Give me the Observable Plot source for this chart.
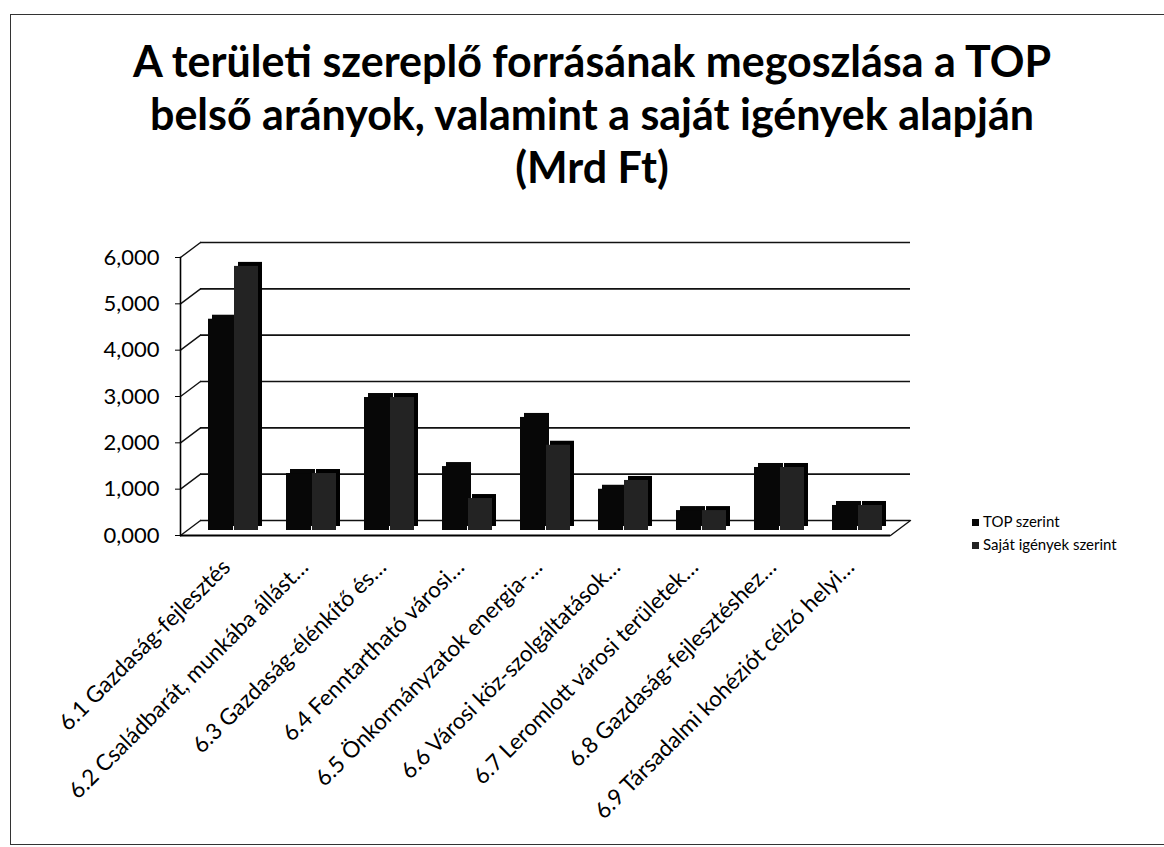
<!DOCTYPE html>
<html>
<head>
<meta charset="utf-8">
<script src="https://cdn.jsdelivr.net/npm/d3@7"></script>
<script src="https://cdn.jsdelivr.net/npm/@observablehq/plot@0.6"></script>
<style>
  body { margin: 0; background: #fff; overflow: hidden; }
  #wrap { position: relative; width: 1164px; height: 847px; overflow: hidden; font-family: Lato, "Open Sans", sans-serif; color: #000; }
  #frame { position: absolute; left: 10px; top: 14px; width: 1400px; height: 831px; border: 1.5px solid #333; box-sizing: border-box; }
  #title { position: absolute; top: 34px; left: 0; width: 1184px; text-align: center; font-weight: bold; font-size: 43px; line-height: 53px; }
  #chart { position: absolute; left: 0; top: 200px; }
  #legend { position: absolute; left: 972px; top: 510px; font-size: 15px; line-height: 23px; }
  #legend .sw { display: inline-block; width: 7px; height: 7px; margin-right: 4px; vertical-align: 1px; }
</style>
</head>
<body>
<div id="wrap">
  <div id="frame"></div>
  <div id="title"></div>
  <div id="chart"></div>
  <div id="legend"></div>
</div>
<script>
const titleLines = [
  "A területi szereplő forrásának megoszlása a TOP",
  "belső arányok, valamint a saját igények alapján",
  "(Mrd Ft)"
];
const categories = [
  "6.1 Gazdaság-fejlesztés",
  "6.2 Családbarát, munkába állást…",
  "6.3 Gazdaság-élénkítő és…",
  "6.4 Fenntartható városi…",
  "6.5 Önkormányzatok energia-…",
  "6.6 Városi köz-szolgáltatások…",
  "6.7 Leromlott városi területek…",
  "6.8 Gazdaság-fejlesztéshez…",
  "6.9 Társadalmi kohéziót célzó helyi…"
];
const seriesNames = ["TOP szerint", "Saját igények szerint"];
const topValues   = [4.56, 1.23, 2.87, 1.38, 2.44, 0.89, 0.43, 1.36, 0.54];
const sajatValues = [5.70, 1.23, 2.87, 0.69, 1.84, 1.08, 0.43, 1.36, 0.54];
const yTicks = [0, 1, 2, 3, 4, 5, 6];
const seriesColors = ["#070707", "#232323"];

document.getElementById("title").innerHTML = titleLines.join("<br>");

const topData = categories.map((c, i) => ({cat: c, value: topValues[i]}));
const sajatData = categories.map((c, i) => ({cat: c, value: sajatValues[i]}));

const line = { draw(context, l) { context.moveTo(0, 0); context.lineTo(0, -l); } };
const fmt = d => d.toFixed(3).replace(".", ",");

const chart = Plot.plot({
  width: 1164,
  height: 640,
  marginTop: 57,
  marginBottom: 305,
  marginLeft: 180,
  marginRight: 274,
  style: { fontFamily: "Lato, 'Open Sans', sans-serif", color: "#000", background: "transparent" },
  x: { domain: categories, padding: 0 },
  y: { domain: [0, 6] },
  marks: [
    Plot.ruleY(yTicks, { dx: 20, dy: -15, stroke: "#111", strokeWidth: 1.6 }),
    Plot.vector(yTicks, { y: d => d, frameAnchor: "left", anchor: "start", length: 25, rotate: 53.13, shape: line, stroke: "#111", strokeWidth: 1.4 }),
    Plot.vector([0], { y: d => d, frameAnchor: "right", anchor: "start", length: 25, rotate: 53.13, shape: line, stroke: "#111", strokeWidth: 1.4 }),
    Plot.barY(topData, { x: "cat", y: "value", insetLeft: 17, insetRight: 36, dx: 11, dy: -9, fill: seriesColors[0] }),
    Plot.barY(topData, { x: "cat", y: "value", insetLeft: 17, insetRight: 36, dx: 7, dy: -5, fill: seriesColors[0] }),
    Plot.barY(sajatData, { x: "cat", y: "value", insetLeft: 43, insetRight: 11, dx: 11, dy: -9, fill: "#000" }),
    Plot.barY(sajatData, { x: "cat", y: "value", insetLeft: 43, insetRight: 11, dx: 7, dy: -5, fill: seriesColors[1] }),
    Plot.ruleY([0], { stroke: "#000", strokeWidth: 2 }),
    Plot.frame({ anchor: "left", stroke: "#000", strokeWidth: 1.6 }),
    Plot.axisY({ ticks: yTicks, tickFormat: fmt, tickSize: 5, tickPadding: 16, fontSize: 22, label: null }),
    Plot.axisX({ tickRotate: -45, tickSize: 0, tickPadding: 28, dx: 3, fontSize: 22.5, label: null })
  ]
});
document.getElementById("chart").appendChild(chart);

const legend = document.getElementById("legend");
seriesNames.forEach((n, i) => {
  const row = document.createElement("div");
  row.innerHTML = `<span class="sw" style="background:${seriesColors[i]}"></span>${n}`;
  legend.appendChild(row);
});
</script>
</body>
</html>
